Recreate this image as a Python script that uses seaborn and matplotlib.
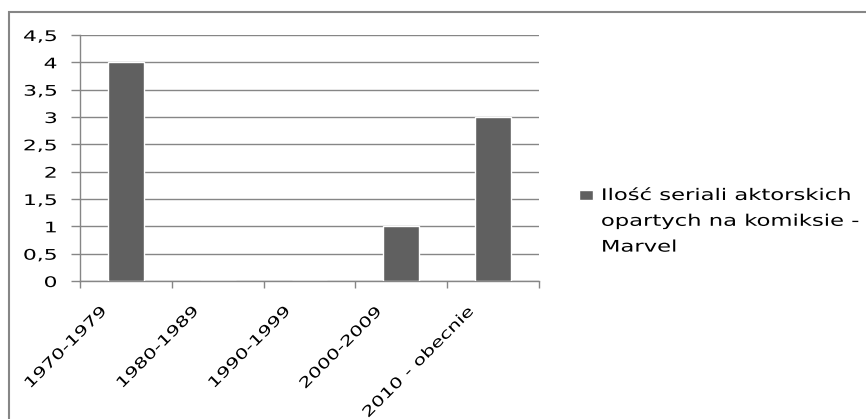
import matplotlib
matplotlib.use("Agg")
import matplotlib.pyplot as plt
import matplotlib.transforms as mtransforms
from matplotlib.patches import Rectangle
from matplotlib.patheffects import AbstractPathEffect
from matplotlib.legend_handler import HandlerPatch, update_from_first_child
from matplotlib.container import BarContainer
from matplotlib.ticker import FuncFormatter
import pandas as pd
import seaborn as sns

decades = ["1970-1979", "1980-1989", "1990-1999", "2000-2009", "2010 - obecnie"]
series_counts = [4, 0, 0, 1, 3]
series_name = "Ilość seriali aktorskich\nopartych na komiksie -\nMarvel"
y_ticks = [0, 0.5, 1, 1.5, 2, 2.5, 3, 3.5, 4, 4.5]

BAR = "#606060"
GRID = "#868686"
TEXT = "#000000"


class WideText(AbstractPathEffect):
    """Draw glyphs stretched along the text direction (wide office-style type)."""

    def __init__(self, sx=1.4, anchor="left"):
        super().__init__()
        self.sx = sx
        self.anchor = anchor

    def draw_path(self, renderer, gc, tpath, affine, rgbFace=None):
        x0 = 0.0
        if self.anchor == "right" and len(tpath.vertices):
            x0 = tpath.get_extents().x1
        stretch = mtransforms.Affine2D().translate(-x0, 0).scale(self.sx, 1).translate(x0, 0)
        renderer.draw_path(gc, tpath, stretch + affine, rgbFace)


sns.set_theme(style="white")
plt.rcParams["font.family"] = ["DejaVu Sans"]
plt.rcParams["font.size"] = 10.5

W, H = 866, 419
fig = plt.figure(figsize=(W / 100, H / 100), dpi=100)
ax = fig.add_axes([80 / W, 1 - 281 / H, (539 - 80) / W, (281 - 35) / H])

df = pd.DataFrame({"decade": decades, "count": series_counts})
sns.barplot(data=df, x="decade", y="count", color=BAR, saturation=1,
            width=0.39, label=series_name, ax=ax, zorder=3)

# value axis
ax.set_ylim(0, 4.5)
ax.set_yticks(y_ticks)
ax.yaxis.set_major_formatter(FuncFormatter(lambda v, _: f"{v:g}".replace(".", ",")))
ax.yaxis.grid(True, color=GRID, linewidth=1.0, zorder=0)
ax.set_axisbelow(True)
ax.tick_params(axis="y", direction="out", length=6.5, width=1.0, color=GRID,
               pad=10, labelsize=10.5, labelcolor=TEXT, left=True)

# category axis: ticks on boundaries, labels on centres
ax.set_xlim(-0.5, len(decades) - 0.5)
ax.set_xticks([i - 0.5 for i in range(len(decades) + 1)])
ax.set_xticklabels([])
ax.set_xticks(range(len(decades)), minor=True)
ax.set_xticklabels(decades, minor=True, rotation=45, ha="right", va="top",
                   rotation_mode="anchor")
ax.tick_params(axis="x", which="major", direction="out", length=5, width=1.0,
               color=GRID, bottom=True)
ax.tick_params(axis="x", which="minor", length=0, pad=16, labelsize=10.5,
               labelcolor=TEXT)

ax.set_xlabel("")
ax.set_ylabel("")
for side in ("top", "right"):
    ax.spines[side].set_visible(False)
for side in ("left", "bottom"):
    ax.spines[side].set_color(GRID)
    ax.spines[side].set_linewidth(1.0)


def first_line_square(legend, orig_handle, xdescent, ydescent, width, height, fontsize):
    # small square level with the first line of the wrapped label
    w, h = 10.0, 7.2
    y = -ydescent + (height - h) / 2 + 19.5
    return Rectangle((-xdescent, y), w, h)


leg = ax.legend(loc="upper left", bbox_to_anchor=(579 / W, 1 - 188 / H),
                bbox_transform=fig.transFigure, frameon=False,
                handlelength=0.87, handleheight=0.9, handletextpad=0.5,
                borderpad=0, borderaxespad=0, fontsize=11.5, labelcolor=TEXT,
                handler_map={BarContainer: HandlerPatch(
                    patch_func=first_line_square,
                    update_func=update_from_first_child)})
for t in leg.get_texts():
    t.set_linespacing(1.9)
    t.set_path_effects([WideText(1.42, "left")])

# chart frame
fig.patches.append(Rectangle((9 / W, -0.2), 1.2, 1.2 - 12 / H,
                             transform=fig.transFigure, fill=False,
                             edgecolor=GRID, linewidth=1.5))

# wide lettering on the tick labels (applied once the ticks exist)
fig.canvas.draw()
shift = mtransforms.ScaledTranslation(-0.27, 0, fig.dpi_scale_trans)
for tick in ax.yaxis.get_major_ticks():
    tick.label1.set_path_effects([WideText(1.5, "right")])
for tick in ax.xaxis.get_minor_ticks():
    tick.label1.set_transform(ax.get_xaxis_text1_transform(16)[0] + shift)
    tick.label1.set_path_effects([WideText(1.38, "right")])

fig.savefig("out.png", dpi=100)
